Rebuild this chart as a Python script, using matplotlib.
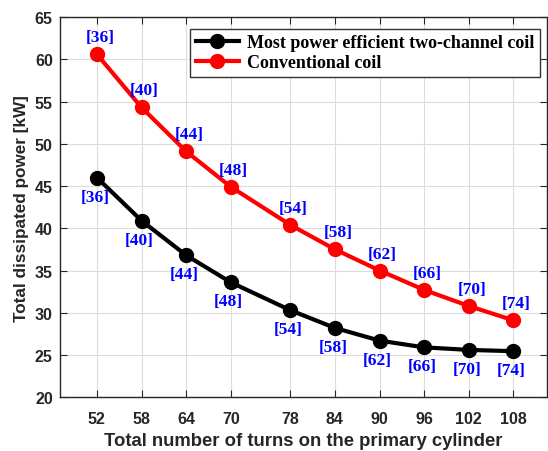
import matplotlib.pyplot as plt

# data
turns = [52, 58, 64, 70, 78, 84, 90, 96, 102, 108]
two_channel = [46.0, 40.9, 36.8, 33.6, 30.3, 28.2, 26.7, 25.9, 25.6, 25.45]
conventional = [60.6, 54.3, 49.1, 44.9, 40.4, 37.5, 35.0, 32.7, 30.8, 29.1]
labels = ['[36]', '[40]', '[44]', '[48]', '[54]', '[58]', '[62]', '[66]', '[70]', '[74]']

sans = ['Liberation Sans', 'DejaVu Sans']
serif = ['Liberation Serif', 'DejaVu Serif']

fig = plt.figure(figsize=(5.48, 4.52), dpi=100)
ax = fig.add_axes([0.109, 0.119, 0.889, 0.841])

ax.plot(turns, two_channel, '-o', color='black', lw=3, ms=10,
        label='Most power efficient two-channel coil', zorder=3)
ax.plot(turns, conventional, '-o', color='red', lw=3, ms=10,
        label='Conventional coil', zorder=3)

# blue bracket labels
for x, y, t in zip(turns, conventional, labels):
    ax.annotate(t, (x, y), xytext=(3, 17), textcoords='offset pixels',
                ha='center', va='center', color='blue', fontsize=12.5,
                fontweight='bold', family=serif)
for x, y, t in zip(turns, two_channel, labels):
    ax.annotate(t, (x, y), xytext=(-2, -19), textcoords='offset pixels',
                ha='center', va='center', color='blue', fontsize=12.5,
                fontweight='bold', family=serif)

ax.set_xlim(47, 112.5)
ax.set_ylim(20, 65)
ax.set_xticks(turns)
ax.set_yticks(range(20, 66, 5))
ax.grid(True, color='#dcdcdc', lw=0.8)
ax.set_axisbelow(True)
ax.tick_params(direction='in', top=True, right=True, length=5,
               labelsize=11.5, colors='#262626')
ax.tick_params(axis='x', pad=10)
ax.tick_params(axis='y', pad=5)
for lab in ax.get_xticklabels() + ax.get_yticklabels():
    lab.set_fontweight('bold')
    lab.set_family(sans)
for sp in ax.spines.values():
    sp.set_color('#262626')
    sp.set_linewidth(1)

ax.set_xlabel('Total number of turns on the primary cylinder', fontsize=13.3,
              fontweight='bold', family=sans, color='#262626', labelpad=4)
ax.set_ylabel('Total dissipated power [kW]', fontsize=12.3,
              fontweight='bold', family=sans, color='#262626', labelpad=4)

leg = ax.legend(loc='upper right', bbox_to_anchor=(0.9856, 0.9685),
                borderaxespad=0, fancybox=False, framealpha=1,
                edgecolor='#333333', handlelength=2.4, handletextpad=0.45,
                borderpad=0.3, labelspacing=0.15,
                prop={'family': serif, 'weight': 'bold', 'size': 13})
leg.get_frame().set_linewidth(1)

fig.savefig('out.png', dpi=100)
